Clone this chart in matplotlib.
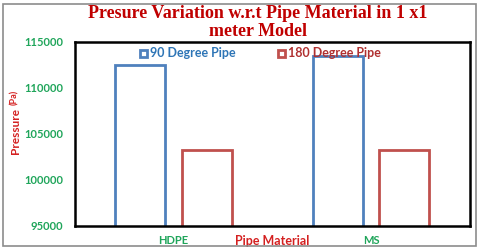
import matplotlib
matplotlib.use("Agg")
import matplotlib.pyplot as plt
import numpy as np
from matplotlib.patches import Rectangle

categories = ["HDPE", "MS"]
series_names = ["90 Degree Pipe", "180 Degree Pipe"]
pipe90 = [112500, 113450]
pipe180 = [103250, 103200]
yticks = [95000, 100000, 105000, 110000, 115000]

blue = "#4F81BD"
red = "#C0504D"
green = "#1FA55A"
title_red = "#C00000"
label_red = "#D42020"

fig = plt.figure(figsize=(4.8, 2.5), dpi=100)
fig.patch.set_facecolor("white")
ax = fig.add_axes([0.1556, 0.0972, 0.979 - 0.1556, 0.8332 - 0.0972])

x = np.arange(len(categories))
w = 0.253
off = 0.168
ax.bar(x - off, pipe90, w, bottom=0, facecolor="none", edgecolor=blue, linewidth=2, label=series_names[0])
ax.bar(x + off, pipe180, w, bottom=0, facecolor="none", edgecolor=red, linewidth=2, label=series_names[1])
ax.set_xlim(-0.5, 1.5)
ax.set_ylim(95000, 115000)
ax.set_yticks(yticks)
ax.set_yticklabels([str(v) for v in yticks])
ax.set_xticks(x)
ax.set_xticklabels(categories)
ax.tick_params(axis="both", length=0)
ax.tick_params(axis="y", pad=8)
ax.tick_params(axis="x", pad=6.5)
for lab in ax.get_yticklabels() + ax.get_xticklabels():
    lab.set_color(green)
    lab.set_fontweight("bold")
    lab.set_fontfamily("Lato")
    lab.set_fontsize(8)
for s in ax.spines.values():
    s.set_color("black")
    s.set_linewidth(1.8)

# x-axis title on same line as tick labels
ax.text(0.5, -0.083, "Pipe Material", transform=ax.transAxes, ha="center", va="center",
        color=label_red, fontweight="bold", fontfamily="Lato", fontsize=9)

# y-axis title
fig.text(15 / 480, 1 - 131 / 250, "Pressure", rotation=90, ha="center", va="center",
         color=label_red, fontweight="bold", fontfamily="Lato", fontsize=8.5)
fig.text(15 / 480, 1 - 97 / 250, "(Pa)", rotation=90, ha="center", va="center",
         color=label_red, fontweight="bold", fontfamily="Lato", fontsize=6.5)

# legend (manual placement inside top of axes)
leg_items = [(140 / 480, series_names[0], blue, "#2E75B6"), (278 / 480, series_names[1], red, "#B03030")]
for fx, name, ec, tc in leg_items:
    fig.patches.append(Rectangle((fx, 1 - 57 / 250), 7 / 480, 7 / 250, transform=fig.transFigure,
                                 facecolor="none", edgecolor=ec, linewidth=2))
    fig.text(fx + 10 / 480, 1 - 53 / 250, name, ha="left", va="center", color=tc,
             fontweight="bold", fontfamily="Lato", fontsize=9)

# title
fig.text(258 / 480, 1 - 14 / 250, "Presure Variation w.r.t Pipe Material in 1 x1",
         ha="center", va="center", color=title_red, fontweight="bold",
         fontfamily="Liberation Serif", fontsize=13)
fig.text(258 / 480, 1 - 32 / 250, "meter Model",
         ha="center", va="center", color=title_red, fontweight="bold",
         fontfamily="Liberation Serif", fontsize=13)

# outer border
fig.patches.append(Rectangle((3 / 480, 4 / 250), 473 / 480, 242 / 250, transform=fig.transFigure,
                             facecolor="none", edgecolor="#8C8C8C", linewidth=1.2))

fig.savefig("out.png", dpi=100, facecolor="white")
